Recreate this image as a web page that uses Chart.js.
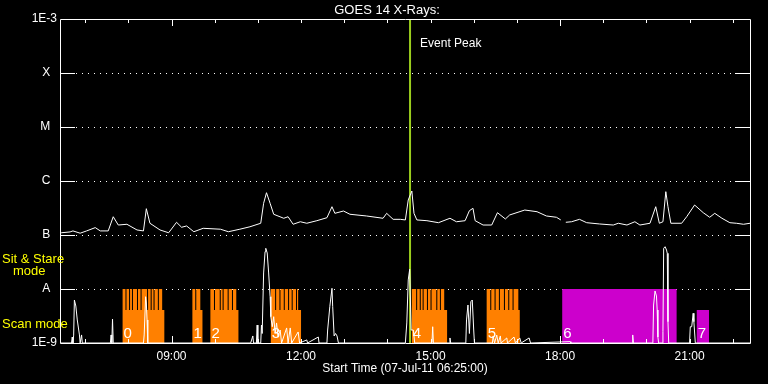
<!DOCTYPE html>
<html>
<head>
<meta charset="utf-8">
<title>GOES 14 X-Rays</title>
<script src="https://cdn.jsdelivr.net/npm/chart.js@4.4.0/dist/chart.umd.min.js"></script>
<style>
  html, body { margin: 0; padding: 0; background: #000; }
  #wrap { width: 768px; height: 384px; }
</style>
</head>
<body>
<div id="wrap"><canvas id="chart" width="768" height="384"></canvas></div>
<script>
// --- time axis (07-Jul-2011) ---
const startTime = '06:25';
const endTime = '22:24';
const eventPeak = '14:31:30';
const labelHours = [9, 12, 15, 18, 21];
const longTickHours = [9, 18];

// --- GOES 14 long channel flux, W/m^2 (null = data gap) ---
const fluxTimes = ['06:25','06:27','06:39','06:43','06:53','07:02','07:14','07:21','07:32','07:39','07:46','07:58',
  '08:12','08:21','08:25','08:30','08:44','08:56','09:07','09:14','09:21','09:31','09:44','10:08','10:19','10:35',
  '10:49','11:04','11:08','11:12','11:17','11:22','11:36','11:42','11:49','11:59','12:08','12:22','12:36','12:43',
  '12:47','12:59','13:08','13:31','13:54','13:59','14:08','14:18','14:25','14:29','14:34','14:37','14:41','14:55',
  '15:11','15:27','15:36','15:48','15:54','15:59','16:02','16:13','16:25','16:33','16:44','16:50','17:11','17:28',
  '17:41','17:55','18:01','18:04','18:08','18:16','18:27','18:37','18:55','19:14','19:21','19:33','19:44','19:51',
  '20:05','20:13','20:18','20:23','20:27','20:30','20:34','20:49','20:56','21:07','21:19','21:28','21:35','21:45',
  '21:56','22:05','22:15','22:24'];
const fluxValues = [1.10e-7,1.10e-7,1.14e-7,1.19e-7,1.08e-7,1.19e-7,1.37e-7,1.19e-7,1.19e-7,2.18e-7,1.53e-7,1.58e-7,
  1.24e-7,1.19e-7,3.07e-7,1.65e-7,1.24e-7,1.10e-7,1.72e-7,1.39e-7,1.47e-7,1.15e-7,1.33e-7,1.28e-7,1.15e-7,1.28e-7,
  1.42e-7,1.65e-7,3.86e-7,6.07e-7,3.86e-7,2.42e-7,2.04e-7,2.18e-7,1.58e-7,1.76e-7,1.65e-7,1.84e-7,2.09e-7,3.34e-7,
  2.52e-7,2.78e-7,2.42e-7,2.25e-7,2.04e-7,2.52e-7,1.95e-7,1.95e-7,1.90e-7,4.45e-7,6.53e-7,2.52e-7,1.90e-7,1.84e-7,
  1.69e-7,2.04e-7,1.76e-7,1.84e-7,2.82e-7,3.12e-7,1.84e-7,1.53e-7,1.53e-7,2.59e-7,1.98e-7,2.35e-7,2.90e-7,2.70e-7,
  2.25e-7,2.13e-7,1.90e-7,null,1.72e-7,1.76e-7,1.95e-7,1.69e-7,1.60e-7,1.53e-7,1.65e-7,1.53e-7,1.76e-7,1.53e-7,
  1.65e-7,3.34e-7,1.65e-7,1.76e-7,6.34e-7,3.34e-7,1.65e-7,1.65e-7,2.18e-7,3.59e-7,2.59e-7,2.13e-7,2.52e-7,2.04e-7,
  1.69e-7,1.65e-7,1.58e-7,1.65e-7];

// --- lower spiky trace ---
const lowTimes = ['06:25','06:41','06:42','06:43','06:44','06:45','06:47','06:49','06:52','06:53','06:55','06:56',
  '07:35','07:36','07:37','07:38','07:39','08:21','08:22','08:24','08:25','08:26','08:27',
  '10:50','10:53','10:54','10:58','10:59','11:00','11:04','11:05','11:06','11:08','11:10','11:11','11:13','11:15',
  '11:17','11:18','11:20','11:22','11:24','11:26','11:28','11:31','11:33','11:40','11:42','11:45','11:47','11:56',
  '11:58','12:08','12:09','12:24','12:25','12:36','12:37','12:40','12:43','12:44','12:46','12:48','12:50','12:52',
  '14:25','14:27','14:29','14:31','14:33','14:36','14:38','15:02','15:03','15:04','15:26','15:27','15:28',
  '15:49','15:50','15:52','15:54','15:56','15:58','16:00','16:01','16:26','16:27','16:29','16:32','16:34','16:37',
  '16:38','16:46','16:47','16:56','16:58','17:04','17:06','17:17','17:19','18:14','18:15','19:40','19:41','19:42',
  '20:09','20:10','20:12','20:14','20:15','20:16','20:17','20:22','20:23','20:24','20:26','20:28','20:29','20:30',
  '20:31','21:00','21:01','21:03','21:05','21:06','21:08','22:24'];
const lowValues = [1e-9,1e-9,1.29e-9,1e-9,1.4e-9,6.25e-9,4.84e-9,2.67e-9,1.41e-9,1e-9,1.41e-9,1e-9,
  1e-9,1.41e-9,1e-9,2.78e-9,1e-9,1e-9,1.41e-9,7.2e-9,5.5e-9,2.67e-9,1e-9,
  1e-9,1.35e-9,1e-9,1e-9,2.15e-9,1e-9,1e-9,2.15e-9,1.5e-9,1.98e-8,4.91e-8,5.67e-8,4.64e-8,1.98e-8,
  7.2e-9,3.07e-9,2.0e-9,3.07e-9,1.5e-9,2.35e-9,1.3e-9,1.74e-9,1e-9,1.9e-9,1e-9,1.9e-9,1e-9,1.6e-9,
  1e-9,1.14e-9,1e-9,1.29e-9,1e-9,1e-9,1.74e-9,4.7e-9,1.03e-8,4.7e-9,1.35e-9,1.5e-9,1.35e-9,1e-9,
  1e-9,2.35e-9,1.47e-8,2.32e-8,1.74e-9,1.74e-9,1e-9,1e-9,2.0e-9,1e-9,1e-9,1.24e-9,1e-9,
  1e-9,2.67e-9,5.05e-9,1.5e-9,5.82e-9,6.25e-9,1.74e-9,1e-9,1e-9,1.35e-9,1e-9,1.4e-9,1e-9,1.35e-9,
  1e-9,1.24e-9,1e-9,1.29e-9,1e-9,1.24e-9,1e-9,1.24e-9,1e-9,1.06e-9,1e-9,1e-9,1.41e-9,1e-9,
  1e-9,5.05e-9,9.18e-9,7.42e-9,4.08e-9,1.29e-9,1e-9,1e-9,1.62e-9,5.67e-8,6.07e-8,5.27e-8,4.58e-8,2.48e-9,
  1e-9,1e-9,2.0e-9,2.0e-9,3.55e-9,2.48e-9,1e-9,1e-9];

// --- scan mode groups (orange) ---
const scanNames = ['0','1','2','3','4','5'];
const scanStart = ['07:52','09:29','09:54','11:18','14:34','16:18'];
const scanEnd = ['08:50','09:43','10:33','12:00','15:23','17:04'];
const scanTallStart = ['07:52','09:29','09:54','11:18','14:34','16:18'];
const scanTallEnd = ['08:47','09:40','10:30','11:56','15:19','17:02'];
const scanGaps = [
  ['07:56','08:01','08:05','08:12','08:17','08:26','08:31','08:35','08:41'],
  ['09:33'],
  ['09:59','10:07','10:11','10:18','10:24'],
  ['11:24','11:30','11:36','11:42','11:47','11:53'],
  ['14:40','14:45','14:49','14:55','15:00','15:08','15:13'],
  ['16:23','16:29','16:35','16:42','16:48','16:54']
];
const scanBlockLevel = 4.08e-9;
const scanTallLevel = 1e-8;

// --- sit & stare groups (magenta) ---
const stareNames = ['6','7'];
const stareStart = ['18:03','21:10'];
const stareEnd = ['20:42','21:27'];
const stareLevel = [1e-8, 4.08e-9];

const yLabels = { '-3': '1E-3', '-4': 'X  ', '-5': 'M  ', '-6': 'C  ', '-7': 'B  ', '-8': 'A  ', '-9': '1E-9' };

const FLOOR = 1e-9;
const GAP = 1.4 / 60;
const FONT = 'Liberation Sans';

function hrs(s) {
  const p = s.split(':').map(Number);
  return p[0] + p[1] / 60 + (p[2] || 0) / 3600;
}

function buildScanSteps() {
  const pts = [{ x: hrs(startTime), y: FLOOR }];
  scanStart.forEach((s, i) => {
    pts.push({ x: hrs(s), y: scanBlockLevel });
    pts.push({ x: hrs(scanTallStart[i]), y: scanTallLevel });
    scanGaps[i].forEach(g => {
      pts.push({ x: hrs(g), y: scanBlockLevel });
      pts.push({ x: hrs(g) + GAP, y: scanTallLevel });
    });
    pts.push({ x: hrs(scanTallEnd[i]), y: scanBlockLevel });
    pts.push({ x: hrs(scanEnd[i]), y: FLOOR });
  });
  pts.push({ x: hrs(endTime), y: FLOOR });
  return pts;
}

function buildStareSteps() {
  const pts = [{ x: hrs(startTime), y: FLOOR }];
  stareStart.forEach((s, i) => {
    pts.push({ x: hrs(s), y: stareLevel[i] });
    pts.push({ x: hrs(stareEnd[i]), y: FLOOR });
  });
  pts.push({ x: hrs(endTime), y: FLOOR });
  return pts;
}

// frame, inward ticks, dotted grid and free text (IDL style plot)
const idlDecor = {
  id: 'idlDecor',
  beforeDatasetsDraw(chart) {
    const { ctx, chartArea: a, scales: { y } } = chart;
    ctx.save();
    ctx.strokeStyle = '#fff';
    ctx.lineWidth = 1;
    ctx.setLineDash([1, 5]);
    for (let e = -8; e <= -4; e++) {
      const py = Math.round(y.getPixelForValue(Math.pow(10, e))) + 0.5;
      ctx.beginPath();
      ctx.moveTo(a.left + 16, py);
      ctx.lineTo(a.right - 15, py);
      ctx.stroke();
    }
    ctx.restore();
  },
  afterDatasetsDraw(chart) {
    const { ctx, chartArea: a, scales: { x, y } } = chart;
    ctx.save();
    ctx.strokeStyle = '#fff';
    ctx.lineWidth = 1;
    ctx.beginPath();
    ctx.rect(a.left + 0.5, a.top + 0.5, a.right - a.left, a.bottom - a.top);
    ctx.stroke();
    // y ticks (both sides)
    for (let e = -8; e <= -4; e++) {
      const py = Math.round(y.getPixelForValue(Math.pow(10, e))) + 0.5;
      ctx.beginPath();
      ctx.moveTo(a.left, py); ctx.lineTo(a.left + 15, py);
      ctx.moveTo(a.right - 15, py); ctx.lineTo(a.right, py);
      ctx.stroke();
    }
    // hourly x ticks, top and bottom
    for (let h = Math.ceil(x.min); h <= Math.floor(x.max); h++) {
      const px = Math.round(x.getPixelForValue(h)) + 0.5;
      const len = longTickHours.includes(h) ? 7 : 4;
      ctx.beginPath();
      ctx.moveTo(px, a.top); ctx.lineTo(px, a.top + len);
      ctx.moveTo(px, a.bottom); ctx.lineTo(px, a.bottom - len);
      ctx.stroke();
    }
    // group numbers
    ctx.fillStyle = '#fff';
    ctx.font = '15px "' + FONT + '"';
    ctx.textAlign = 'left';
    ctx.textBaseline = 'alphabetic';
    scanNames.forEach((n, i) => ctx.fillText(n, x.getPixelForValue(hrs(scanStart[i])) + 1, a.bottom - 5));
    stareNames.forEach((n, i) => ctx.fillText(n, x.getPixelForValue(hrs(stareStart[i])) + 1, a.bottom - 5));
    // event label
    ctx.font = '12px "' + FONT + '"';
    ctx.fillText('Event Peak', x.getPixelForValue(hrs(eventPeak)) + 10, a.top + 28);
    // title
    ctx.font = '13px "' + FONT + '"';
    ctx.textAlign = 'center';
    ctx.fillText('GOES 14 X-Rays:', 387, 14);
    // mode labels
    ctx.fillStyle = '#ffff00';
    ctx.textAlign = 'left';
    ctx.font = '13px "' + FONT + '"';
    ctx.fillText('Sit & Stare', 2, 263);
    ctx.fillText('mode', 13, 275);
    ctx.fillText('Scan mode', 2, 328);
    ctx.restore();
  }
};

function pairs(times, values) {
  return times.map((t, i) => ({ x: hrs(t), y: values[i] }));
}

const ctx = document.getElementById('chart').getContext('2d');
new Chart(ctx, {
  type: 'line',
  data: {
    datasets: [
      {
        label: 'GOES 14 flux',
        data: pairs(fluxTimes, fluxValues),
        borderColor: '#ffffff', borderWidth: 1, pointRadius: 0, tension: 0, spanGaps: false, order: 0
      },
      {
        label: 'low trace',
        data: pairs(lowTimes, lowValues),
        borderColor: '#ffffff', borderWidth: 1, pointRadius: 0, tension: 0, order: 1
      },
      {
        label: 'Event Peak',
        data: [{ x: hrs(eventPeak), y: 1e-9 }, { x: hrs(eventPeak), y: 1e-3 }],
        borderColor: '#9acd1e', borderWidth: 2, pointRadius: 0, order: 2
      },
      {
        label: 'Sit & Stare mode',
        data: buildStareSteps(),
        stepped: 'before', fill: 'start', backgroundColor: '#cc00cc',
        borderColor: 'rgba(0,0,0,0)', borderWidth: 1, pointRadius: 0, order: 3
      },
      {
        label: 'Scan mode',
        data: buildScanSteps(),
        stepped: 'before', fill: 'start', backgroundColor: '#ff8000',
        borderColor: 'rgba(0,0,0,0)', borderWidth: 1, pointRadius: 0, order: 4
      }
    ]
  },
  options: {
    responsive: false,
    animation: false,
    devicePixelRatio: 1,
    layout: { padding: { top: 19, right: 18, left: 0, bottom: 0 } },
    plugins: { legend: { display: false }, tooltip: { enabled: false }, title: { display: false } },
    scales: {
      x: {
        type: 'linear',
        min: hrs(startTime),
        max: hrs(endTime),
        grid: { display: false, drawTicks: false },
        border: { display: false },
        afterFit: s => { s.height = 41; },
        afterBuildTicks: s => { s.ticks = labelHours.map(v => ({ value: v })); },
        ticks: {
          color: '#fff', font: { family: FONT, size: 12 }, padding: 6, maxRotation: 0, autoSkip: false,
          callback: v => String(v).padStart(2, '0') + ':00'
        },
        title: {
          display: true, text: 'Start Time (07-Jul-11 06:25:00)', color: '#fff',
          font: { family: FONT, size: 12 }, padding: { top: 0, bottom: 8 }
        }
      },
      y: {
        type: 'logarithmic',
        min: 1e-9,
        max: 1e-3,
        grid: { display: false, drawTicks: false },
        border: { display: false },
        afterFit: s => { s.width = 60; },
        afterBuildTicks: s => {
          s.ticks = [-9, -8, -7, -6, -5, -4, -3].map(e => ({ value: Math.pow(10, e) }));
        },
        ticks: {
          color: '#fff', font: { family: FONT, size: 12 }, padding: 3, autoSkip: false,
          callback: v => yLabels[String(Math.round(Math.log10(v)))]
        }
      }
    }
  },
  plugins: [idlDecor]
});
</script>
</body>
</html>
